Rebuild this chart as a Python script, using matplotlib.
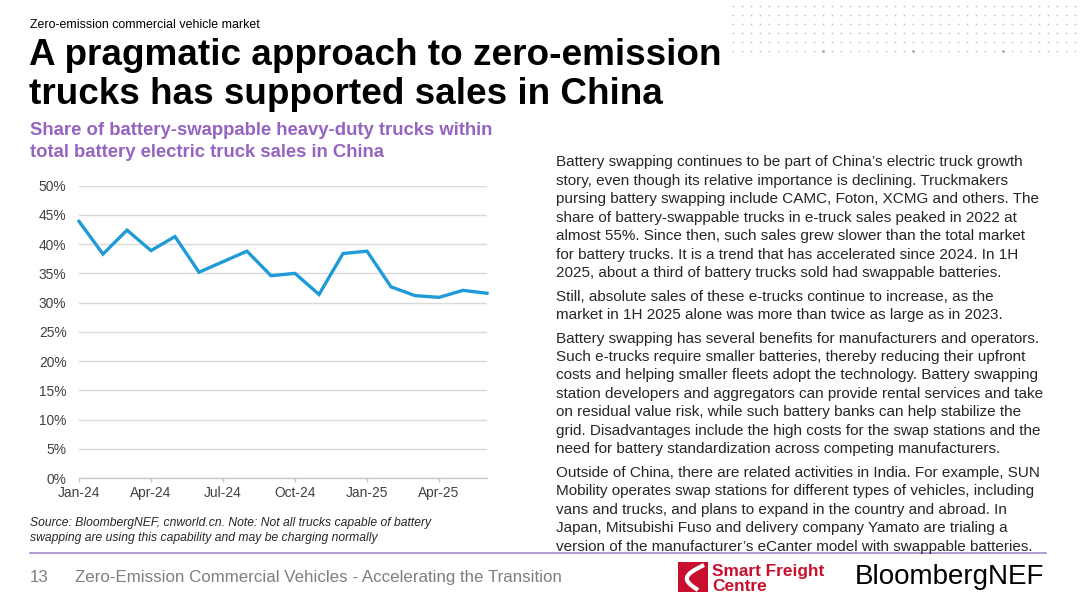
import numpy as np
import matplotlib.pyplot as plt
from matplotlib.patches import Rectangle
from matplotlib.lines import Line2D

plt.rcParams["font.family"] = ["Liberation Sans", "DejaVu Sans"]

# data (share of swappable trucks, %)
months = ["Jan-24", "Feb-24", "Mar-24", "Apr-24", "May-24", "Jun-24",
          "Jul-24", "Aug-24", "Sep-24", "Oct-24", "Nov-24", "Dec-24",
          "Jan-25", "Feb-25", "Mar-25", "Apr-25", "May-25", "Jun-25"]
share = [43.9, 38.3, 42.4, 38.9, 41.3, 35.2, 37.0, 38.8, 34.6,
         35.0, 31.4, 38.4, 38.8, 32.7, 31.2, 30.9, 32.1, 31.6]
y_ticks = [0, 5, 10, 15, 20, 25, 30, 35, 40, 45, 50]
x_tick_every = 3

kicker = "Zero-emission commercial vehicle market"
title_lines = ["A pragmatic approach to zero-emission",
               "trucks has supported sales in China"]
subtitle_lines = ["Share of battery-swappable heavy-duty trucks within",
                  "total battery electric truck sales in China"]
paragraphs = [
    ["Battery swapping continues to be part of China\u2019s electric truck growth",
     "story, even though its relative importance is declining. Truckmakers",
     "pursing battery swapping include CAMC, Foton, XCMG and others. The",
     "share of battery-swappable trucks in e-truck sales peaked in 2022 at",
     "almost 55%. Since then, such sales grew slower than the total market",
     "for battery trucks. It is a trend that has accelerated since 2024. In 1H",
     "2025, about a third of battery trucks sold had swappable batteries."],
    ["Still, absolute sales of these e-trucks continue to increase, as the",
     "market in 1H 2025 alone was more than twice as large as in 2023."],
    ["Battery swapping has several benefits for manufacturers and operators.",
     "Such e-trucks require smaller batteries, thereby reducing their upfront",
     "costs and helping smaller fleets adopt the technology. Battery swapping",
     "station developers and aggregators can provide rental services and take",
     "on residual value risk, while such battery banks can help stabilize the",
     "grid. Disadvantages include the high costs for the swap stations and the",
     "need for battery standardization across competing manufacturers."],
    ["Outside of China, there are related activities in India. For example, SUN",
     "Mobility operates swap stations for different types of vehicles, including",
     "vans and trucks, and plans to expand in the country and abroad. In",
     "Japan, Mitsubishi Fuso and delivery company Yamato are trialing a",
     "version of the manufacturer\u2019s eCanter model with swappable batteries."],
]
source_lines = ["Source: BloombergNEF, cnworld.cn. Note: Not all trucks capable of battery",
                "swapping are using this capability and may be charging normally"]
footer = "Zero-Emission Commercial Vehicles - Accelerating the Transition"

blue = "#1f9bd7"
purple = "#9563c1"
dark = "#404040"
W, H = 1080, 604

fig = plt.figure(figsize=(W / 100, H / 100), dpi=100)
fig.patch.set_facecolor("white")


def fx(x):
    return x / W


def fy(y):
    return 1 - y / H


# --- chart ---
ax = fig.add_axes([fx(79), fy(478), (487 - 79) / W, (478 - 185.7) / H])
x = np.arange(len(share))
ax.plot(x, share, color=blue, lw=2.4, solid_joinstyle="miter", zorder=3, clip_on=False)
ax.set_xlim(0, len(share) - 1)
ax.set_ylim(0, 50)
ax.set_yticks(y_ticks)
ax.set_yticklabels([f"{v}%" for v in y_ticks])
ax.set_xticks(x[::x_tick_every])
ax.set_xticklabels(months[::x_tick_every])
ax.grid(axis="y", color="#d9d9d9", lw=1)
ax.set_axisbelow(True)
for s in ["top", "right", "left"]:
    ax.spines[s].set_visible(False)
ax.spines["bottom"].set_color("#c8c8c8")
ax.spines["bottom"].set_linewidth(1)
ax.tick_params(axis="y", length=0, pad=9, labelsize=9.9, labelcolor=dark)
ax.tick_params(axis="x", length=3, width=1, color="#c8c8c8", pad=3,
               labelsize=9.9, labelcolor=dark)

# --- texts ---
fig.text(fx(30), fy(28.5), kicker, fontsize=8.9, color="black", va="baseline")
for i, line in enumerate(title_lines):
    fig.text(fx(29), fy(65 + i * 38.5), line, fontsize=26.6, fontweight="bold",
             color="black", va="baseline")
for i, line in enumerate(subtitle_lines):
    fig.text(fx(30), fy(135 + i * 22), line, fontsize=13.3, fontweight="bold",
             color=purple, va="baseline")

para_starts = [166.5, 301, 342.5, 477]
step = 18.4
for start, lines in zip(para_starts, paragraphs):
    for i, line in enumerate(lines):
        fig.text(fx(556), fy(start + i * step), line, fontsize=11.0,
                 color="#262626", va="baseline")

for i, line in enumerate(source_lines):
    fig.text(fx(30), fy(526 + i * 15.5), line, fontsize=8.7, style="italic",
             color="#262626", va="baseline")

fig.add_artist(Line2D([fx(30), fx(1046)], [fy(553), fy(553)], color="#9b80c9", lw=1.1))

fig.text(fx(30), fy(582), "13", fontsize=12.2, color="#7f7f7f", va="baseline")
fig.text(fx(75), fy(582), footer, fontsize=12.2, color="#7f7f7f", va="baseline")

# --- logos ---
red = "#c8102e"
fig.add_artist(Rectangle((fx(678), fy(592)), 30 / W, 30 / H, facecolor=red,
                         edgecolor="none"))
# white swoosh inside the red square
t = np.linspace(0, 1, 60)
sx = 704 - 14 * np.sin(np.pi * t) - 6 * t
sy = 565 + 25 * t
fig.add_artist(Line2D(fx(sx), fy(sy), color="white", lw=3.0, solid_capstyle="butt"))
fig.text(fx(712), fy(576), "Smart Freight", fontsize=12.4, fontweight="bold",
         color=red, va="baseline")
fig.text(fx(712), fy(591), "Centre", fontsize=12.4, fontweight="bold",
         color=red, va="baseline")
fig.text(fx(855), fy(584), "BloombergNEF", fontsize=20, color="black",
         va="baseline")

# --- dotted pattern top right ---
dot_x = np.arange(733, 1080, 9)
dot_y = np.arange(6, 56, 9)
gx, gy = np.meshgrid(dot_x, dot_y)
fig.add_artist(Line2D(fx(gx.ravel()), fy(gy.ravel()), ls="none", marker="o",
                      ms=1.2, mec="none", mfc="#c0c0c0"))
big_x = dot_x[10::10]
fig.add_artist(Line2D(fx(big_x), fy(np.full(len(big_x), dot_y[-1])), ls="none",
                      marker="o", ms=2.0, mec="none", mfc="#a8a8a8"))

fig.savefig("out.png", dpi=100, facecolor="white")
